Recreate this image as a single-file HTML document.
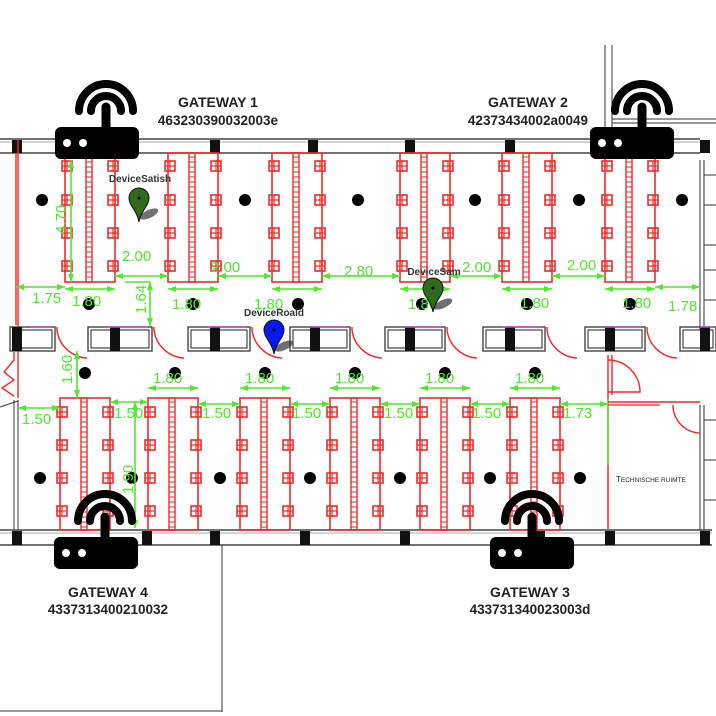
<!DOCTYPE html>
<html><head><meta charset="utf-8"><style>
html,body{margin:0;padding:0;background:#fff;}
svg{display:block}
text{font-family:"Liberation Sans",sans-serif;}
</style></head><body>
<svg id="s" width="716" height="716" viewBox="0 0 716 716" xmlns="http://www.w3.org/2000/svg">
<rect width="716" height="716" fill="#fff"/>
<g id="g"></g>
<g font-weight="bold" fill="#222" text-anchor="middle">
<text x="218" y="107" font-size="14">GATEWAY 1</text>
<text x="218" y="125" font-size="13.5">463230390032003e</text>
<text x="528" y="107" font-size="14">GATEWAY 2</text>
<text x="528" y="125" font-size="13.5">42373434002a0049</text>
<text x="108" y="597" font-size="14">GATEWAY 4</text>
<text x="108" y="614" font-size="13.5">4337313400210032</text>
<text x="530" y="597" font-size="14">GATEWAY 3</text>
<text x="530" y="614" font-size="13.5">433731340023003d</text>
</g>
<g font-size="10" fill="#333" text-anchor="middle" font-weight="bold">
<text x="140" y="182">DeviceSatish</text>
<text x="434" y="275">DeviceSam</text>
<text x="274" y="316">DeviceRoald</text>
</g>
<text x="616" y="482" font-size="8" fill="#222" font-family="Liberation Serif">T<tspan font-size="6.5">ECHNISCHE RUIMTE</tspan></text>
</svg>
<script>
var g=document.getElementById('g'),h='';
function L(x1,y1,x2,y2,c,w){h+='<line x1="'+x1+'" y1="'+y1+'" x2="'+x2+'" y2="'+y2+'" stroke="'+(c||'#333')+'" stroke-width="'+(w||1)+'"/>';}
function R(x,y,w,hh,f,s,sw){h+='<rect x="'+x+'" y="'+y+'" width="'+w+'" height="'+hh+'" fill="'+(f||'none')+'" stroke="'+(s||'none')+'" stroke-width="'+(sw||1)+'"/>';}
function C(x,y,r,f){h+='<circle cx="'+x+'" cy="'+y+'" r="'+r+'" fill="'+f+'"/>';}
function T(x,y,t,rot){h+='<text x="'+x+'" y="'+y+'" font-size="15" fill="#4fe82a" font-family="Liberation Sans"'+(rot?' transform="rotate(-90 '+x+' '+y+')"':'')+'>'+t+'</text>';}
var RED='#f02a2a',GR='#4fe82a';
L(0,139,700,139,'#444',1.5);L(0,153,700,153,'#444',1.5);L(0,142,700,142,'#aaa',1);
L(0,530,712,530,'#444',1.5);L(0,545,712,545,'#444',1.5);L(0,533,712,533,'#aaa',1);
L(222,545,222,712,'#333',1);L(0,711,222,711,'#333',1);
L(605,45,605,128,'#333',1);L(612,45,612,128,'#333',1);
L(612,119,716,119,'#333',1);L(612,123,716,123,'#333',1);
L(700,160,700,330,'#333',1);L(704,160,704,330,'#333',1);
[175,205,245,270,300].forEach(function(y){L(704,y,716,y,'#333',1)});
L(700,405,700,530,'#333',1);L(704,405,704,530,'#333',1);
[420,460,500].forEach(function(y){L(704,y,716,y,'#333',1)});
L(14,400,14,530,'#333',1);L(18,400,18,530,'#333',1);
L(0,407,18,401,'#333',1);
[12,210,308,405,505,700].forEach(function(x){R(x,140,10,13,'#111');});
[12,142,210,300,400,535,605,700].forEach(function(x){R(x,531,10,14,'#111');});
function chair(x,y){R(x-5,y-5,10,10,'none',RED,1.6);L(x,y-5,x,y+5,RED,1.2);L(x-5,y,x+5,y,RED,1.2);}
function cluster(x,y1,y2,wbar,ys){R(x,y1,50,y2-y1,'none',RED,1.6);R(x+21,y1,6,y2-y1,'none',RED,1.4);
 for(var yy=y1+4;yy<y2;yy+=5)L(x+21,yy,x+27,yy,RED,1);
 ys.forEach(function(y){chair(x+2,y);chair(x+48,y);});}
var UY=[166,200,233,266];
cluster(65,153,282,0,UY);cluster(168,153,282,0,UY);cluster(272,153,282,0,UY);
cluster(400,153,282,0,UY);cluster(502,153,282,0,UY);cluster(605,153,282,0,UY);
var LY=[412,445,478,511];
[60,148,240,330,420,510].forEach(function(x){cluster(x,398,530,0,LY);});
L(18,398,18,140,RED,1.4);L(16,153,16,325,RED,1.4);
[[10,55,12],[88,152,110],[188,250,210],[290,350,310],[385,445,405],[483,545,505],[585,645,605],[680,716,700]].forEach(function(b){
 R(b[0],327,b[1]-b[0],24,'none','#444',1.4);R(b[0]+3,330,b[1]-b[0]-6,18,'none','#444',1.2);R(b[2],327,10,24,'#111');
 L(b[0]+20,327,b[1]-4,327,'#d23ed2',1.5);
 h+='<path d="M'+(b[1]+2)+' 327 L'+(b[1]+2)+' 330 A32 32 0 0 0 '+(b[1]+32)+' 358" fill="none" stroke="'+RED+'" stroke-width="1.4"/>';
});
h+='<path d="M14 352 L14 360 L4 372 L14 380 L2 388 L14 396" fill="none" stroke="'+RED+'" stroke-width="1.4"/>';
L(608,398,608,530,RED,1.5);L(608,398,608,465,GR,1.5);L(608,402,700,402,RED,1.5);L(608,405,660,405,RED,1.2);
h+='<path d="M608 360 A32 32 0 0 1 640 392 L608 392" fill="none" stroke="'+RED+'" stroke-width="1.4"/>';
h+='<path d="M673 405 A28 28 0 0 0 700 433" fill="none" stroke="'+RED+'" stroke-width="1.4"/>';
L(608,355,608,398,RED,1.4);L(612,355,612,395,RED,1.4);
[42,245,358,475,579,682].forEach(function(x){C(x,200,6,'#000');});
[89,193,298,422,527,630].forEach(function(x){C(x,304,6,'#000');});
[85,175,265,355,445,535].forEach(function(x){C(x,373,6,'#000');});
[40,132,220,310,400,490,580].forEach(function(x){C(x,478,6,'#000');});
function dimH(x1,x2,y){L(x1,y,x2,y,GR,1.6);h+='<path d="M'+x1+' '+y+' l8 -3 v6z M'+x2+' '+y+' l-8 -3 v6z" fill="'+GR+'"/>';}
function dimV(x,y1,y2){L(x,y1,x,y2,GR,1.6);h+='<path d="M'+x+' '+y1+' l-3 8 h6z M'+x+' '+y2+' l-3 -8 h6z" fill="'+GR+'"/>';}
dimV(71,160,282);T(66,234,'4.70',true);
dimH(115,168,276);T(122,261,'2.00');dimH(218,272,276);T(211,272,'2.00');
dimH(322,400,276);T(344,276,'2.80');dimH(450,502,276);T(462,272,'2.00');dimH(552,605,276);T(567,270,'2.00');
dimH(16,65,287);T(32,303,'1.75');dimH(655,700,287);T(668,311,'1.78');
dimH(65,115,289);T(72,306,'1.80');dimH(168,218,289);T(172,309,'1.80');dimH(272,322,289);T(254,309,'1.80');
dimH(400,450,289);T(408,309,'1.80');dimH(502,552,289);T(520,308,'1.80');dimH(605,655,289);T(622,308,'1.80');
L(125,282,150,282,GR,1.4);dimV(150,282,326);T(146,314,'1.64',true);
dimV(77,351,398);T(72,384,'1.60',true);
dimH(18,60,408);T(22,424,'1.50');dimH(110,148,402);T(114,418,'1.50');dimH(198,240,404);T(202,418,'1.50');
dimH(290,330,404);T(292,418,'1.50');dimH(380,420,404);T(384,418,'1.50');dimH(470,510,404);T(472,418,'1.50');
dimH(560,608,404);T(563,418,'1.73');
[[148,198],[240,290],[330,380],[420,470],[510,560]].forEach(function(p){dimH(p[0],p[1],388);T(p[0]+5,383,'1.80');});
dimV(135,402,528);T(133,494,'1.90',true);
function gw(rx,ry,ax,ay){
 h+='<rect x="'+rx+'" y="'+ry+'" width="84" height="32" rx="6" fill="#000"/>';
 C(rx+12,ry+16,4,'#fff');C(rx+28,ry+16,4,'#fff');
 h+='<path d="M'+(ax-27)+' '+ay+' A27 27 0 0 1 '+(ax+27)+' '+ay+'" fill="none" stroke="#000" stroke-width="8" stroke-linecap="round"/>';
 h+='<path d="M'+(ax-15)+' '+ay+' A15 15 0 0 1 '+(ax+15)+' '+ay+'" fill="none" stroke="#000" stroke-width="8" stroke-linecap="round"/>';
 h+='<line x1="'+ax+'" y1="'+(ay-4)+'" x2="'+ax+'" y2="'+ry+'" stroke="#000" stroke-width="9" stroke-linecap="round"/>';
}
gw(55,127,106,111);gw(590,127,642,111);gw(54,537,105,521);gw(490,537,532,521);
function pin(x,y,c){h+='<ellipse cx="'+(x+10)+'" cy="'+(y+6)+'" rx="10" ry="4" fill="#333" opacity="0.7" transform="rotate(-25 '+(x+10)+' '+(y+6)+')"/>';
 h+='<path d="M'+x+' '+(y+14)+' C'+(x-2)+' '+(y+2)+' '+(x-10)+' '+(y-2)+' '+(x-10)+' '+(y-10)+' A10 10 0 1 1 '+(x+10)+' '+(y-10)+' C'+(x+10)+' '+(y-2)+' '+(x+2)+' '+(y+2)+' '+x+' '+(y+14)+'z" fill="'+c+'" stroke="#111" stroke-width="1"/>';C(x,y-10,1.5,'#000');}
pin(139,208,'#2f6b1a');pin(433,298,'#2f6b1a');pin(274,340,'#0a18f0');
g.innerHTML=h;
</script>
</body></html>
